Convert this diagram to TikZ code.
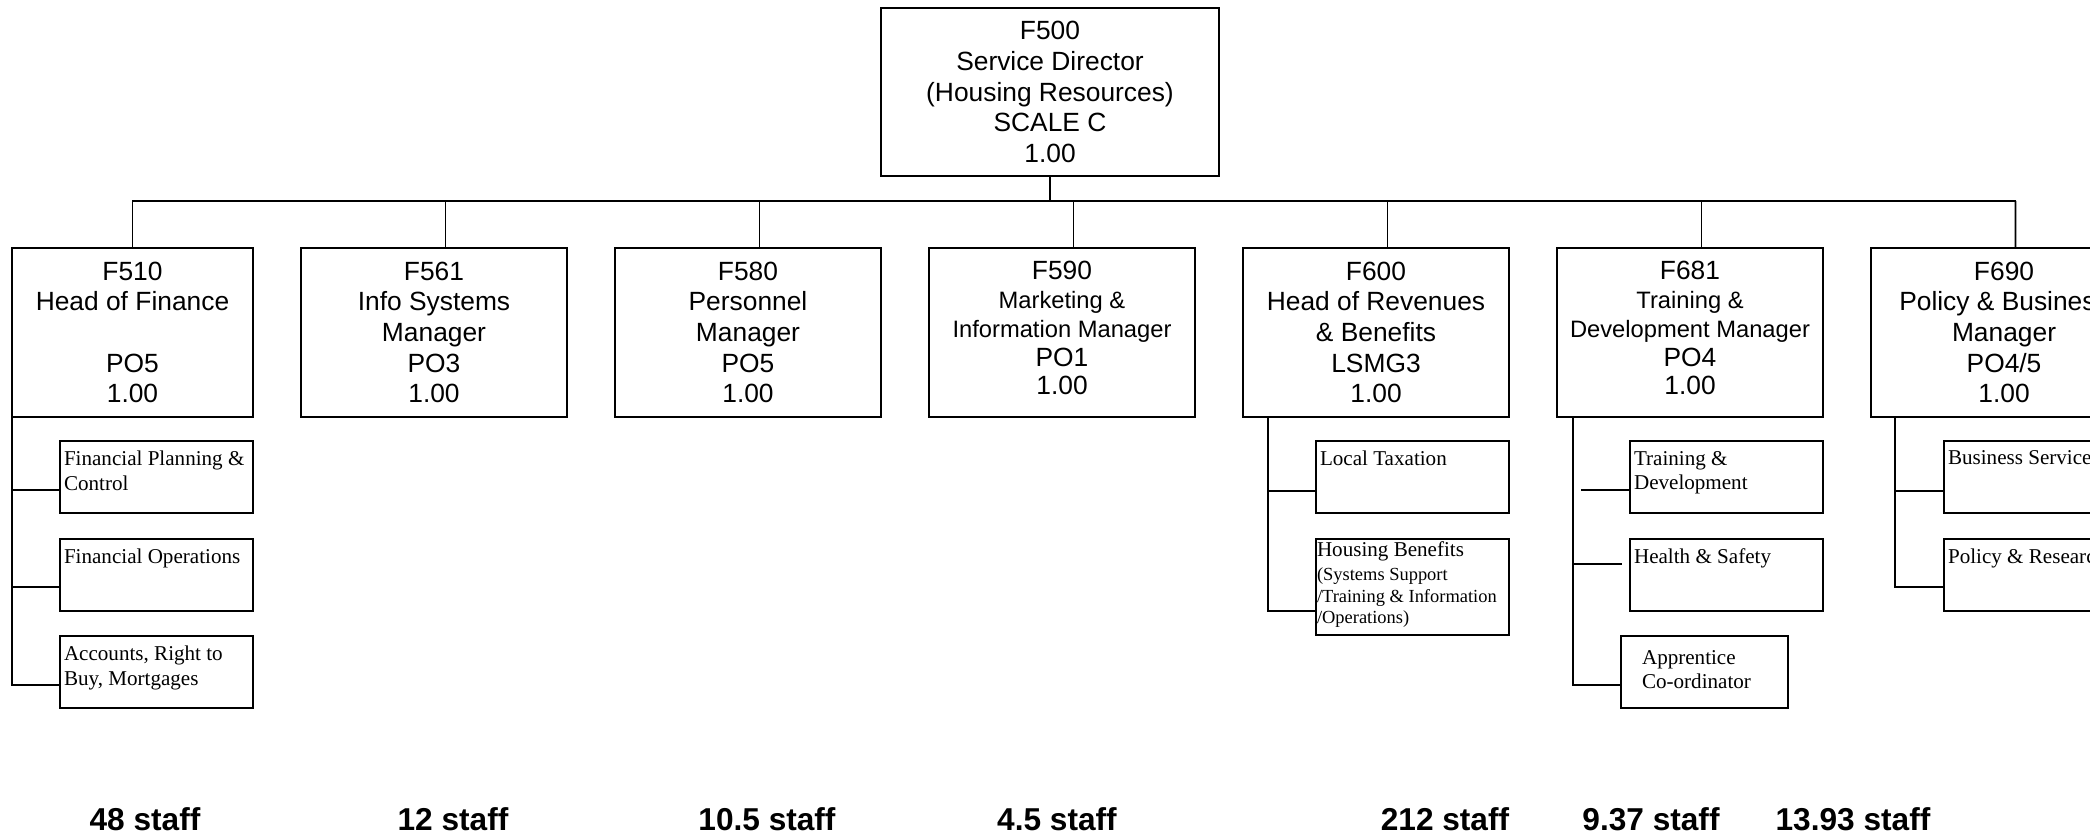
\documentclass[tikz,border=0pt]{standalone}
\usepackage{fontspec}
\setmainfont{Liberation Sans}
\newfontfamily\unitfont{Liberation Serif}
\usetikzlibrary{positioning}

\newcommand{\midsize}{\fontsize{13.5}{15}\selectfont}
\newcommand{\unittext}[2][3.7cm]{\parbox[t][1.04cm][t]{#1}{\raggedright #2}}

\begin{document}
\begin{tikzpicture}[node distance=0.96cm, line width=0.9pt]
        \tikzstyle{post}  = [rectangle, align=center, draw=black, inner sep=0pt, outer sep=0pt,
                             minimum width=5.32cm, minimum height=3.38cm,
                             font=\fontsize{15}{17.4}\selectfont]
        \tikzstyle{unit}  = [rectangle, draw=black, inner xsep=0.08cm, inner ysep=0.2cm, outer sep=0pt,
                             font=\unitfont\fontsize{12}{14.2}\selectfont]
        \tikzstyle{staff} = [font=\bfseries\fontsize{18}{21}\selectfont]

        \useasboundingbox (0,0) rectangle (41.8,-16.72);
        \clip (0,0) rectangle (41.8,-16.72);

        % director and the row of posts
        \node(f500) [post, minimum width=6.76cm, minimum height=3.36cm] at (21,-1.84)
                {F500\\ Service Director\\ (Housing Resources)\\ SCALE C\\ 1.00};
        \node(f510) [post, minimum width=4.82cm] at (2.65,-6.65)
                {F510\\ Head of Finance\\ \strut\\ PO5\\ 1.00};
        \node(f561) [post, right=of f510] {F561\\ Info Systems\\ Manager\\ PO3\\ 1.00};
        \node(f580) [post, right=of f561] {F580\\ Personnel\\ Manager\\ PO5\\ 1.00};
        \node(f590) [post, right=of f580, font=\fontsize{15}{16.4}\selectfont]
                {F590\\ {\midsize Marketing \&}\\ {\midsize Information Manager}\\ PO1\\ 1.00\rule[-0.18cm]{0pt}{0pt}};
        \node(f600) [post, right=of f590]
                {F600\\ Head of Revenues\\ \& Benefits\\ LSMG3\\ 1.00};
        \node(f681) [post, right=of f600, font=\fontsize{15}{16.4}\selectfont]
                {F681\\ {\midsize Training \&}\\ {\midsize Development Manager}\\ PO4\\ 1.00\rule[-0.18cm]{0pt}{0pt}};
        \node(f690) [post, right=of f681]
                {F690\\ Policy \& Business\\ Manager\\ PO4/5\\ 1.00};

        \coordinate (busend) at (40.31,-4.02);
        \draw (f500.south) -- (f500.south |- busend);
        \draw (f510.north) |- (busend);
        \draw ([xshift=0.23cm]f561.north) -- ++(0,0.94);
        \draw ([xshift=0.23cm]f580.north) -- ++(0,0.94);
        \draw ([xshift=0.23cm]f590.north) -- ++(0,0.94);
        \draw ([xshift=0.23cm]f600.north) -- ++(0,0.94);
        \draw ([xshift=0.23cm]f681.north) -- ++(0,0.94);
        \draw ([xshift=0.23cm]f690.north) -- (busend);

        % finance sections
        \node(fpc)  [unit, anchor=north east] at ([yshift=-0.48cm]f510.south east)
                {\unittext{Financial Planning \&\\ Control}};
        \node(fops) [unit, below=0.52cm of fpc] {\unittext{Financial Operations}};
        \node(acc)  [unit, below=0.5cm of fops] {\unittext{Accounts, Right to\\ Buy, Mortgages}};

        \draw (f510.south west) |- ([yshift=0.46cm]fpc.south west);
        \draw (f510.south west) |- ([yshift=0.48cm]fops.south west);
        \draw (f510.south west) |- ([yshift=0.46cm]acc.south west);

        % revenues and benefits sections
        \node(tax)  [unit, anchor=north east] at ([yshift=-0.48cm]f600.south east)
                {\unittext{Local Taxation}};
        \node(hben) [unit, below=0.52cm of tax, inner xsep=0.02cm, inner ysep=0.06cm]
                {\parbox[t][1.8cm][t]{3.82cm}{Housing Benefits\\[1.4pt]
                 \fontsize{10.5}{12.2}\selectfont (Systems Support\\ /Training \& Information\\ /Operations)}};

        \draw ([xshift=0.5cm]f600.south west) |- ([yshift=0.44cm]tax.south west);
        \draw ([xshift=0.5cm]f600.south west) |- ([yshift=0.48cm]hben.south west);

        % training sections
        \node(trd)  [unit, anchor=north east] at ([yshift=-0.48cm]f681.south east)
                {\unittext{Training \&\\ Development}};
        \node(hs)   [unit, below=0.52cm of trd] {\unittext{Health \& Safety}};
        \node(appr) [unit, anchor=north west, inner xsep=0.42cm] at ([xshift=-0.18cm, yshift=-0.5cm]hs.south west)
                {\unittext[2.5cm]{\rule{0pt}{0.36cm}Apprentice\\ Co-ordinator}};

        \draw ([yshift=0.46cm]trd.south west) -- ++(-0.98cm,0);
        \draw[shorten >=0.16cm] ([xshift=0.32cm]f681.south west) |- ([yshift=0.94cm]hs.south west);
        \draw ([xshift=0.32cm]f681.south west) |- ([yshift=0.46cm]appr.south west);

        % policy sections
        \node(bsv)  [unit, anchor=north east] at ([yshift=-0.48cm]f690.south east)
                {\unittext{Business Services}};
        \node(pres) [unit, below=0.52cm of bsv] {\unittext{Policy \& Research}};

        \draw ([xshift=0.48cm]f690.south west) |- ([yshift=0.44cm]bsv.south west);
        \draw ([xshift=0.48cm]f690.south west) |- ([yshift=0.48cm]pres.south west);

        % staff totals
        \node(s510) [staff] at (2.9,-16.38)   {48 staff};
        \node(s561) [staff] at (9.06,-16.38)  {12 staff};
        \node(s580) [staff] at (15.34,-16.38) {10.5 staff};
        \node(s590) [staff] at (21.14,-16.38) {4.5 staff};
        \node(s600) [staff] at (28.9,-16.38)  {212 staff};
        \node(s681) [staff] at (33.02,-16.38) {9.37 staff};
        \node(s690) [staff] at (37.06,-16.38) {13.93 staff};
      \end{tikzpicture}
\end{document}
